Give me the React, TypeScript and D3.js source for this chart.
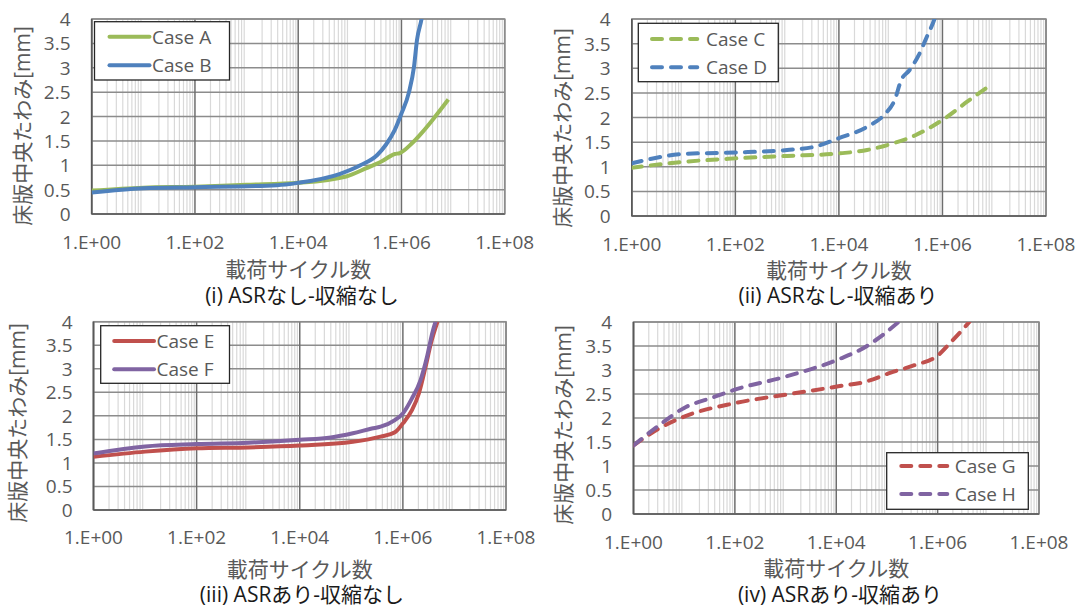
import React from "react";
import * as d3 from "d3";

// ---------- data ----------
const xTickLabels = ["1.E+00", "1.E+02", "1.E+04", "1.E+06", "1.E+08"];
const xTickValues = [1, 1e2, 1e4, 1e6, 1e8];
const yTickValues = [0, 0.5, 1, 1.5, 2, 2.5, 3, 3.5, 4];
const yAxisTitle = "床版中央たわみ[mm]";
const xAxisTitle = "載荷サイクル数";
const captions = ["(i) ASRなし-収縮なし", "(ii) ASRなし-収縮あり", "(iii) ASRあり-収縮なし", "(iv) ASRあり-収縮あり"];

const caseAX = [1, 10, 100, 1e3, 1e4, 8.5e4, 2.1e5, 4e5, 7.4e5, 9.3e5, 1.6e6, 2.5e6, 4e6, 8.1e6];
const caseAY = [0.48, 0.54, 0.56, 0.6, 0.64, 0.77, 0.94, 1.07, 1.23, 1.25, 1.45, 1.67, 1.93, 2.35];
const caseBX = [1, 10, 100, 3.9e3, 1e4, 6.3e4, 1.6e5, 3.4e5, 5e5, 7.4e5, 1e6, 1.4e6, 1.75e6, 2e6, 2.45e6, 2.8e6];
const caseBY = [0.44, 0.53, 0.55, 0.59, 0.64, 0.82, 1.0, 1.21, 1.42, 1.72, 2.06, 2.5, 3.02, 3.57, 4.0, 4.4];
const caseCX = [1, 10, 100, 1e3, 1e4, 3.5e4, 1e5, 3e5, 1e6, 3e6, 8e6];
const caseCY = [0.98, 1.1, 1.17, 1.22, 1.27, 1.34, 1.46, 1.64, 1.95, 2.32, 2.64];
const caseDX = [1, 10, 100, 1e3, 3.5e3, 1e4, 3.5e4, 7.4e4, 1.2e5, 1.6e5, 2.3e5, 3.5e5, 5e5, 7e5, 8e5];
const caseDY = [1.07, 1.26, 1.29, 1.34, 1.41, 1.58, 1.81, 2.05, 2.36, 2.76, 2.96, 3.27, 3.64, 4.0, 4.2];
const caseEX = [1, 10, 100, 1e3, 1e4, 1.07e5, 3.7e5, 7e5, 1e6, 1.5e6, 2.05e6, 2.75e6, 3.5e6, 4.7e6];
const caseEY = [1.13, 1.24, 1.31, 1.33, 1.37, 1.45, 1.56, 1.65, 1.84, 2.12, 2.48, 3.04, 3.54, 4.0];
const caseFX = [1, 10, 100, 1e3, 1e4, 4e4, 1.07e5, 2.5e5, 3.7e5, 7e5, 1e6, 1.5e6, 2.2e6, 2.95e6, 3.7e6, 4.3e6];
const caseFY = [1.2, 1.35, 1.4, 1.43, 1.49, 1.54, 1.63, 1.73, 1.77, 1.91, 2.05, 2.37, 2.76, 3.26, 3.75, 4.0];
const caseGX = [1, 3.3, 10, 100, 1.07e3, 1.1e4, 3.9e4, 1.15e5, 3.5e5, 1e6, 1.9e6, 3.1e6, 4.2e6];
const caseGY = [1.43, 1.79, 2.03, 2.31, 2.49, 2.66, 2.76, 2.94, 3.1, 3.3, 3.6, 3.84, 4.0];
const caseHX = [1, 3.3, 10, 35, 100, 1.07e3, 1.1e4, 3.9e4, 8.5e4, 1.7e5];
const caseHY = [1.43, 1.86, 2.21, 2.42, 2.59, 2.87, 3.22, 3.49, 3.74, 4.0];

// ---------- styles / layout ----------
const GREEN = "#9BBB59";
const BLUE = "#4F81BD";
const RED = "#C0504D";
const PURPLE = "#8064A2";
const TEXT = "#595959";
const FONT = "'Open Sans', 'Noto Sans CJK JP', sans-serif";

type Series = { name: string; xs: number[]; ys: number[]; color: string; dashed: boolean };

const panels = [
  {
    l: 91.7, r: 504.7, t: 19, b: 214, tickRight: 70.5, xLabelY: 242, xTitleY: 269, capX: 302, capY: 295, yTitleX: 22, yTitleY: 126,
    legend: { x: 94.5, y: 21.7, w: 135, h: 58.3, l1: 15, l2: 55, tx: 57.5, r1: 15, r2: 43.5 },
    series: [
      { name: "Case A", xs: caseAX, ys: caseAY, color: GREEN, dashed: false },
      { name: "Case B", xs: caseBX, ys: caseBY, color: BLUE, dashed: false },
    ] as Series[],
  },
  {
    l: 631.8, r: 1046, t: 19, b: 216, tickRight: 610.6, xLabelY: 243.5, xTitleY: 269.5, capX: 838, capY: 295, yTitleX: 562, yTitleY: 128,
    legend: { x: 638.3, y: 23.3, w: 140, h: 58.4, l1: 11.7, l2: 61, tx: 67.7, r1: 15.7, r2: 44 },
    series: [
      { name: "Case C", xs: caseCX, ys: caseCY, color: GREEN, dashed: true },
      { name: "Case D", xs: caseDX, ys: caseDY, color: BLUE, dashed: true },
    ] as Series[],
  },
  {
    l: 93.5, r: 506, t: 321.7, b: 510, tickRight: 72.5, xLabelY: 537, xTitleY: 568.5, capX: 302, capY: 594, yTitleX: 16.5, yTitleY: 423,
    legend: { x: 100.7, y: 325.7, w: 128.8, h: 57.6, l1: 13.5, l2: 53.3, tx: 55.8, r1: 15.3, r2: 43.6 },
    series: [
      { name: "Case E", xs: caseEX, ys: caseEY, color: RED, dashed: false },
      { name: "Case F", xs: caseFX, ys: caseFY, color: PURPLE, dashed: false },
    ] as Series[],
  },
  {
    l: 633.5, r: 1039, t: 322, b: 514, tickRight: 612, xLabelY: 541.5, xTitleY: 568, capX: 840, capY: 594, yTitleX: 563, yTitleY: 425,
    legend: { x: 886.7, y: 452.7, w: 141.6, h: 56.6, l1: 12.6, l2: 62.6, tx: 68, r1: 13.3, r2: 41.3 },
    series: [
      { name: "Case G", xs: caseGX, ys: caseGY, color: RED, dashed: true },
      { name: "Case H", xs: caseHX, ys: caseHY, color: PURPLE, dashed: true },
    ] as Series[],
  },
];

function minorTicks(): number[] {
  const out: number[] = [];
  for (let e = 0; e < 8; e++) for (let k = 2; k <= 9; k++) out.push(k * Math.pow(10, e));
  return out;
}

function Panel({ p, idx }: { p: (typeof panels)[number]; idx: number }) {
  const x = d3.scaleLog().domain([1, 1e8]).range([p.l, p.r]);
  const y = d3.scaleLinear().domain([0, 4]).range([p.b, p.t]);
  const line = d3
    .line<[number, number]>()
    .x((d) => x(d[0]))
    .y((d) => y(d[1]))
    .curve(d3.curveMonotoneX);
  const clipId = `clip${idx}`;
  const lg = p.legend;
  return (
    <g>
      <defs>
        <clipPath id={clipId}>
          <rect x={p.l} y={p.t} width={p.r - p.l} height={p.b - p.t} />
        </clipPath>
      </defs>
      {minorTicks().map((v, i) => (
        <line key={"m" + i} x1={x(v)} x2={x(v)} y1={p.t} y2={p.b} stroke="#d9d9d9" strokeWidth={1.2} />
      ))}
      {yTickValues.map((v) => (
        <line key={"h" + v} x1={p.l} x2={p.r} y1={y(v)} y2={y(v)} stroke="#8c8c8c" strokeWidth={1.5} />
      ))}
      {xTickValues.map((v) => (
        <line key={"M" + v} x1={x(v)} x2={x(v)} y1={p.t} y2={p.b} stroke="#6e6e6e" strokeWidth={1.5} />
      ))}
      <rect x={p.l} y={p.t} width={p.r - p.l} height={p.b - p.t} fill="none" stroke="#8c8c8c" strokeWidth={1.5} />
      <line x1={p.l} x2={p.r} y1={p.b} y2={p.b} stroke="#595959" strokeWidth={1.6} />
      <line x1={p.l} x2={p.l} y1={p.t} y2={p.b} stroke="#595959" strokeWidth={1.6} />
      <g clipPath={`url(#${clipId})`}>
        {p.series.map((s) => (
          <path
            key={s.name}
            d={line(s.xs.map((v, i) => [v, s.ys[i]] as [number, number])) || ""}
            fill="none"
            stroke={s.color}
            strokeWidth={4}
            strokeLinecap={s.dashed ? "round" : "butt"}
            strokeLinejoin="round"
            strokeDasharray={s.dashed ? "10 9" : undefined}
          />
        ))}
      </g>
      {yTickValues.map((v) => (
        <text key={"yl" + v} x={p.tickRight} y={y(v)} textAnchor="end" dominantBaseline="central" fontSize={19} fill={TEXT} fontFamily={FONT}>
          {String(v)}
        </text>
      ))}
      {xTickValues.map((v, i) => (
        <text key={"xl" + v} x={x(v)} y={p.xLabelY} textAnchor="middle" dominantBaseline="central" fontSize={19} fill={TEXT} fontFamily={FONT}>
          {xTickLabels[i]}
        </text>
      ))}
      <text x={(p.l + p.r) / 2} y={p.xTitleY} textAnchor="middle" dominantBaseline="central" fontSize={21} fill={TEXT} fontFamily={FONT}>
        {xAxisTitle}
      </text>
      <text
        transform={`translate(${p.yTitleX},${p.yTitleY}) rotate(-90)`}
        textAnchor="middle"
        dominantBaseline="central"
        fontSize={21}
        fill={TEXT}
        fontFamily={FONT}
      >
        {yAxisTitle}
      </text>
      <text x={p.capX} y={p.capY} textAnchor="middle" dominantBaseline="central" fontSize={21} fill="#1a1a1a" fontFamily={FONT}>
        {captions[idx]}
      </text>
      <rect x={lg.x} y={lg.y} width={lg.w} height={lg.h} fill="#fff" stroke="#262626" strokeWidth={1.3} />
      {p.series.map((s, i) => {
        const ly = lg.y + (i === 0 ? lg.r1 : lg.r2);
        return (
          <g key={"lg" + s.name}>
            <line
              x1={lg.x + lg.l1 + (s.dashed ? 2 : 0)}
              x2={lg.x + lg.l2 - (s.dashed ? 2 : 0)}
              y1={ly}
              y2={ly}
              stroke={s.color}
              strokeWidth={4}
              strokeLinecap="round"
              strokeDasharray={s.dashed ? "10 9" : undefined}
            />
            <text x={lg.x + lg.tx} y={ly} dominantBaseline="central" fontSize={19} fill={TEXT} fontFamily={FONT}>
              {s.name}
            </text>
          </g>
        );
      })}
    </g>
  );
}

export default function App() {
  return (
    <svg width={1079} height={608} style={{ position: "absolute", left: 0, top: 0, background: "#fff" }}>
      <rect width={1079} height={608} fill="#fff" />
      {panels.map((p, i) => (
        <Panel key={i} p={p} idx={i} />
      ))}
    </svg>
  );
}
